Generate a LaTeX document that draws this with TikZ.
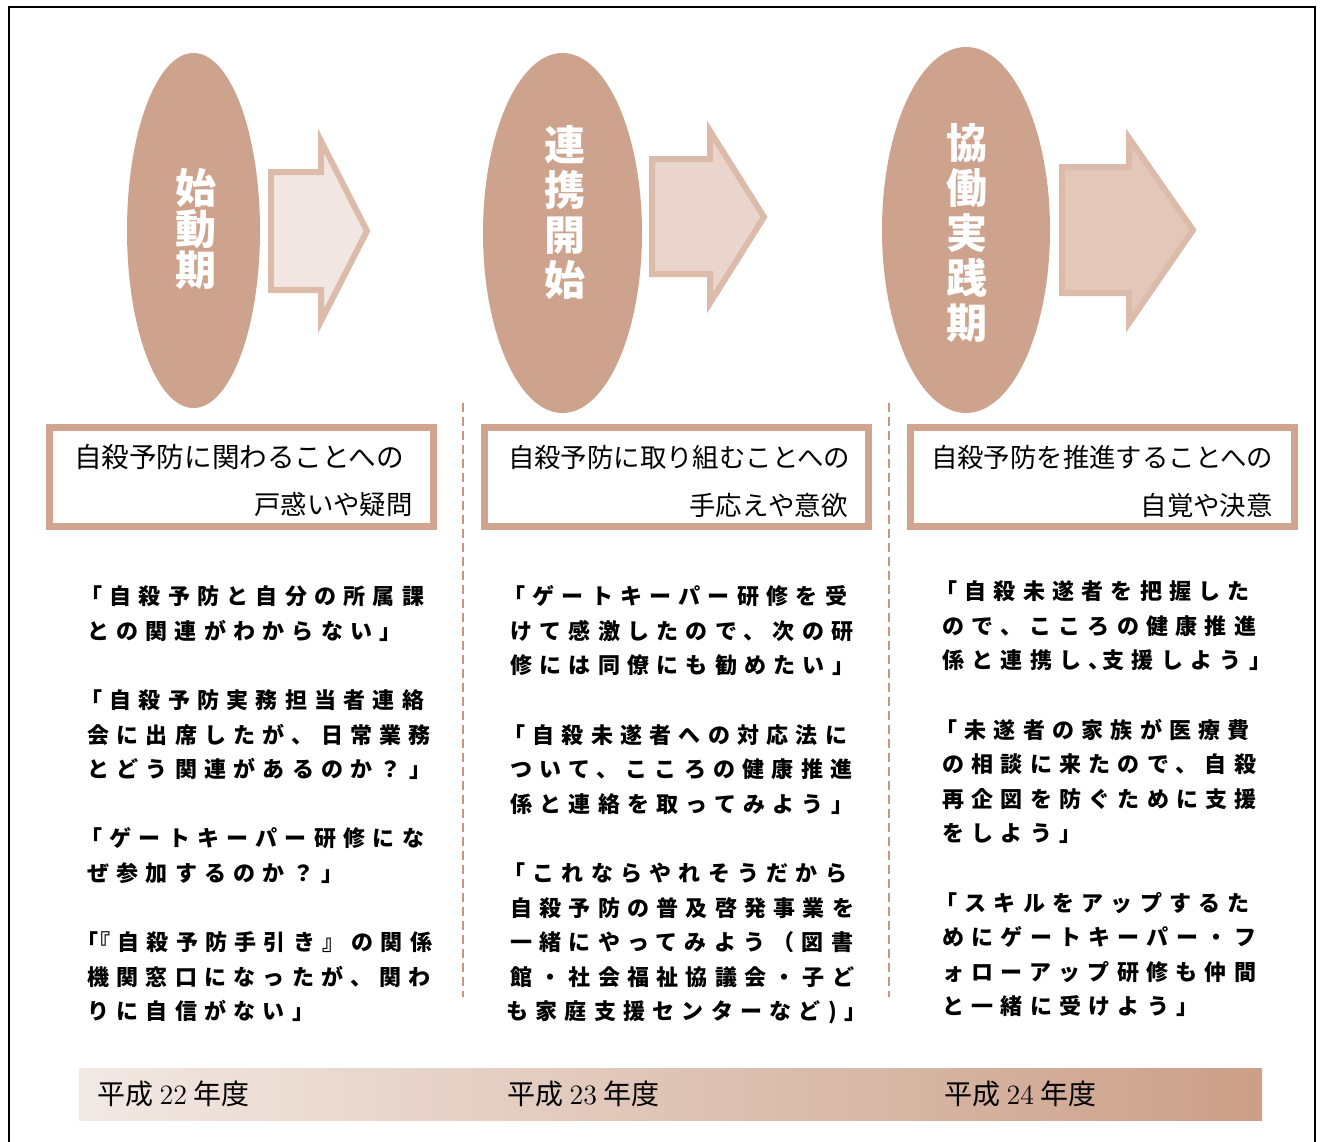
\documentclass[tikz,border=0pt]{standalone}
\usepackage{fontspec}
\newfontfamily\jp{Noto Sans CJK JP}
\newfontfamily\jpq[LetterSpace=33]{Noto Sans CJK JP}
\usetikzlibrary{shapes.geometric}
\definecolor{ellfill}{HTML}{CEA38D}
\definecolor{arrline}{HTML}{DCBBAA}
\definecolor{arrA}{HTML}{F1E6E1}
\definecolor{arrB}{HTML}{E9D5CB}
\definecolor{arrC}{HTML}{E2C7BA}
\definecolor{boxline}{HTML}{D0A48F}
\definecolor{dashcol}{HTML}{C9977F}
\definecolor{barL}{HTML}{F2E9E4}
\definecolor{barR}{HTML}{CB9F88}
\tikzset{
  phase/.style={ellipse, fill=ellfill, draw=none, inner sep=0pt},
  phaselabel/.style={text=white, align=center, inner sep=0pt,
    font=\jp\bfseries\fontsize{20.5pt}{#1}\selectfont},
  bigarrow/.style={draw=arrline, line width=3pt, line join=miter},
  framebox/.style={draw=boxline, line width=3.5pt, minimum width=192pt, minimum height=49.5pt, inner sep=0pt},
  boxtext/.style={inner sep=0pt, font=\jp\fontsize{13.2pt}{16pt}\selectfont},
  quote/.style={inner sep=0pt, anchor=west, text height=0.88em, text depth=0.12em,
    font=\jpq\bfseries\fontsize{11pt}{13pt}\selectfont},
  divider/.style={draw=dashcol, line width=1pt, dash pattern=on 4.5pt off 2.5pt},
  yeartext/.style={inner sep=0pt, anchor=west, font=\jp\fontsize{14pt}{16pt}\selectfont},
}
\newcommand\ql[4]{\node[quote] (#1) at (#2,#3) {#4};}
\begin{document}
\begin{tikzpicture}[x=0.5pt,y=-0.5pt]
\useasboundingbox (0,0) rectangle (1322,1141);
\fill[white] (0,0) rectangle (1322,1141);
% outer frame
\draw[black, line width=1pt] (9,1150) -- (9,7) -- (1315,7) -- (1315,1150);

% phases
\node[phase, minimum width=66.5pt, minimum height=177.5pt] (e1) at (193.5,230.5) {};
\node[phase, minimum width=79.5pt, minimum height=180pt] (e2) at (562.5,233) {};
\node[phase, minimum width=84pt, minimum height=183pt] (e3) at (966,230) {};
\node[phaselabel=20.5pt] (t1) at (196,229) {始\\動\\期};
\node[phaselabel=22.5pt] (t2) at (565,212.5) {連\\携\\開\\始};
\node[phaselabel=22.5pt] (t3) at (967,232.5) {協\\働\\実\\践\\期};

% arrows
\draw[bigarrow, fill=arrA] (271,172) -- (321,172) -- (321,141) -- (367,231) -- (321,321) -- (321,290) -- (271,290) -- cycle;
\draw[bigarrow, fill=arrB] (652,159) -- (710,159) -- (710,131) -- (764,217) -- (710,303) -- (710,274) -- (652,274) -- cycle;
\draw[bigarrow, fill=arrC] (1062,167) -- (1129,167) -- (1129,138) -- (1193,230) -- (1129,323) -- (1129,293) -- (1062,293) -- cycle;

% dividers
\coordinate (d1a) at (463,403); \coordinate (d1b) at (463,997);
\coordinate (d2a) at (889,403); \coordinate (d2b) at (889,997);
\draw[divider] (d1a) -- (d1b);
\draw[divider] (d2a) -- (d2b);

% boxes
\node[framebox] (b1) at (241.5,477) {};
\node[framebox] (b2) at (676,477) {};
\node[framebox] (b3) at (1102,477) {};
\node[boxtext, font=\jp\fontsize{13.8pt}{16pt}\selectfont] (b1a) at (239,457) {自殺予防に関わることへの};
\node[boxtext, anchor=east] (b1b) at (413,505) {戸惑いや疑問};
\node[boxtext] (b2a) at (679,457) {自殺予防に取り組むことへの};
\node[boxtext, anchor=east] (b2b) at (848,505) {手応えや意欲};
\node[boxtext] (b3a) at (1102,457) {自殺予防を推進することへの};
\node[boxtext, anchor=east] (b3b) at (1273,505) {自覚や決意};

% column 1
\ql{q1a}{80}{597}{「自殺予防と自分の所属課}
\ql{q1b}{87}{631.6}{との関連がわからない」}
\ql{q1c}{80}{700.8}{「自殺予防実務担当者連絡}
\ql{q1d}{87}{735.4}{会に出席したが、日常業務}
\ql{q1e}{87}{770}{とどう関連があるのか？」}
\ql{q1f}{80}{839.2}{「ゲートキーパー研修にな}
\ql{q1g}{87}{873.8}{ぜ参加するのか？」}
\ql{q1h}{76}{943}{「\kern-5pt『自殺予防手引き』の関係}
\ql{q1i}{87}{977.6}{機関窓口になったが、関わ}
\ql{q1j}{87}{1012.2}{りに自信がない」}

% column 2
\ql{q2a}{503}{597}{「ゲートキーパー研修を受}
\ql{q2b}{510}{631.6}{けて感激したので、次の研}
\ql{q2c}{510}{666.2}{修には同僚にも勧めたい」}
\ql{q2d}{503}{735.4}{「自殺未遂者への対応法に}
\ql{q2e}{510}{770}{ついて、こころの健康推進}
\ql{q2f}{510}{804.6}{係と連絡を取ってみよう」}
\ql{q2g}{503}{873.8}{「これならやれそうだから}
\ql{q2h}{510}{908.4}{自殺予防の普及啓発事業を}
\ql{q2i}{510}{943}{一緒にやってみよう（図書}
\ql{q2j}{510}{977.6}{館・社会福祉協議会・子ど}
\ql{q2k}{506}{1012.2}{も家庭支援センターなど)」}

% column 3
\ql{q3a}{935}{592}{「自殺未遂者を把握した}
\ql{q3b}{942}{626.6}{ので、こころの健康推進}
\ql{q3c}{942}{661.2}{係と連携し、\kern-4pt支援しよう」}
\ql{q3d}{935}{730.4}{「未遂者の家族が医療費}
\ql{q3e}{942}{765}{の相談に来たので、自殺}
\ql{q3f}{942}{799.6}{再企図を防ぐために支援}
\ql{q3g}{942}{834.2}{をしよう」}
\ql{q3h}{935}{903.4}{「スキルをアップするた}
\ql{q3i}{942}{938}{めにゲートキーパー・フ}
\ql{q3j}{942}{972.6}{ォローアップ研修も仲間}
\ql{q3k}{942}{1007.2}{と一緒に受けよう」}

% year bar
\node[inner sep=0pt, minimum width=591.5pt, minimum height=26pt, left color=barL, right color=barR, draw=none] (bar) at (670.5,1094) {};
\node[yeartext] (y1) at (97,1094) {平成 {\rmfamily 22} 年度};
\node[yeartext] (y2) at (507,1094) {平成 {\rmfamily 23} 年度};
\node[yeartext] (y3) at (944,1094) {平成 {\rmfamily 24} 年度};
\end{tikzpicture}
\end{document}
